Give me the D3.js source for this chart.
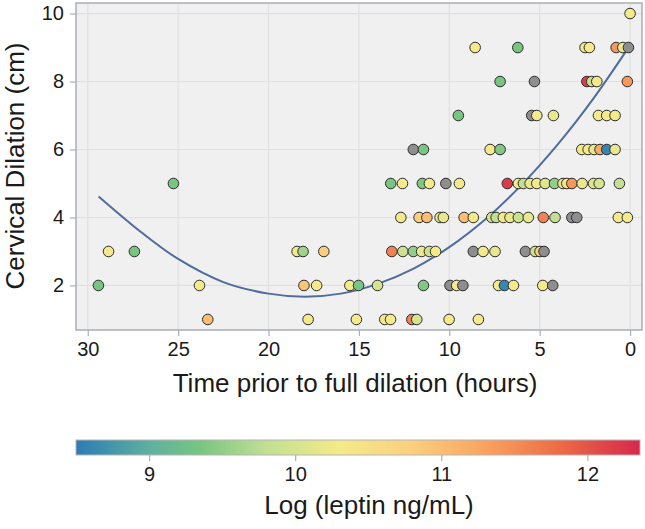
<!DOCTYPE html>
<html><head><meta charset="utf-8">
<script src="https://cdn.jsdelivr.net/npm/d3@7"></script>
<style>body{margin:0;background:#fff}svg{display:block;font-family:"Liberation Sans",Arial,sans-serif}</style>
</head><body><svg id="c" width="645" height="529"></svg>
<script>
// Scatter data: hours before full dilation, cervical dilation (cm), log leptin (null = missing, gray)
const hours = [
  0.0,
  8.57,6.21,2.49,2.25,0.77,0.40,0.09,
  7.19,5.29,2.39,2.12,1.84,0.15,
  9.50,5.44,5.16,4.24,1.75,1.29,0.83,
  11.99,11.43,7.74,7.19,2.67,2.32,1.99,1.66,1.29,0.83,
  25.26,13.24,12.59,11.49,11.10,10.19,9.44,6.79,6.18,5.90,5.53,5.16,4.70,4.18,3.71,3.50,3.22,2.65,2.02,1.71,0.59,
  12.68,11.67,11.24,10.51,10.33,9.18,8.67,7.65,7.41,7.01,6.64,6.18,5.63,4.80,4.15,3.22,2.95,0.65,0.15,
  28.85,27.42,18.42,18.09,16.94,13.18,12.57,11.99,11.53,11.10,10.76,8.67,8.13,7.47,5.79,5.25,4.98,4.76,
  29.41,23.82,18.04,17.34,15.50,15.02,13.97,11.43,9.96,9.59,9.25,7.28,6.95,6.45,4.83,4.28,
  23.36,17.81,15.14,13.57,13.25,12.07,11.80,10.01,8.39
];
const dilation = [
  10,
  9,9,9,9,9,9,9,
  8,8,8,8,8,8,
  7,7,7,7,7,7,7,
  6,6,6,6,6,6,6,6,6,6,
  5,5,5,5,5,5,5,5,5,5,5,5,5,5,5,5,5,5,5,5,5,
  4,4,4,4,4,4,4,4,4,4,4,4,4,4,4,4,4,4,4,
  3,3,3,3,3,3,3,3,3,3,3,3,3,3,3,3,3,3,
  2,2,2,2,2,2,2,2,2,2,2,2,2,2,2,2,
  1,1,1,1,1,1,1,1,1
];
const leptin = [
  10.3,
  10.3,9.35,10.3,10.3,11.4,10.2,null,
  9.35,null,12.2,9.8,10.3,11.4,
  9.35,null,10.3,10.2,10.3,10.3,10.3,
  null,9.35,10.3,9.4,10.3,10.3,10.2,11.2,8.6,10.2,
  9.35,9.35,10.3,9.4,10.3,null,10.3,12.2,10.3,9.8,10.2,10.3,10.1,9.5,10.2,10.4,11.4,10.2,10.1,10.0,9.8,
  10.3,10.8,11.0,10.3,10.2,11.0,10.3,10.0,9.8,10.3,10.2,9.9,10.2,11.6,9.8,null,null,10.3,10.3,
  10.3,9.35,10.3,9.6,10.8,11.6,9.9,9.5,10.2,9.9,10.3,null,10.3,10.2,null,9.9,10.8,null,
  9.35,10.3,10.9,10.3,10.3,9.35,10.0,9.4,null,10.3,null,10.3,8.6,10.3,10.3,null,
  11.0,10.3,10.3,10.3,10.3,11.6,10.0,10.3,10.3
];
// Fitted trend line
const curveHours = [29.4,27,25,22.5,20,18,16,14,12,10,8,6,4,2,0];
const curveDilation = [4.62,3.55,2.78,2.10,1.76,1.67,1.76,2.04,2.49,3.13,3.95,4.96,6.15,7.52,9.07];
// Axis ticks
const xTicks = [30,25,20,15,10,5,0];
const yTicks = [2,4,6,8,10];
const legendTicks = [9,10,11,12];
const colorStops = [8.5,9.0,9.35,9.8,10.3,10.8,11.3,11.8,12.36];
const colorRange = ["#2c7bb6","#5fb0a0","#78c582","#c2df92","#f4ea8a","#fccf7e","#f9a35f","#ee6c47","#d6284c"];

const svg = d3.select("#c");
const L = 76, R = 642, T = 3, B = 330;
const x = d3.scaleLinear().domain([30.65,-0.66]).range([L,R]);
const y = d3.scaleLinear().domain([0.69,10.31]).range([B,T]);
const color = d3.scaleLinear().domain(colorStops).range(colorRange);
const textCol = "#1a1a1a";

// panel
svg.append("rect").attr("x",L).attr("y",T).attr("width",R-L).attr("height",B-T).attr("fill","#f0f0f0");
// grid
svg.append("g").selectAll("line").data(xTicks).join("line")
  .attr("x1",d=>x(d)).attr("x2",d=>x(d)).attr("y1",T).attr("y2",B).attr("stroke","#e0e0e0").attr("stroke-width",1.2);
svg.append("g").selectAll("line").data(yTicks).join("line")
  .attr("y1",d=>y(d)).attr("y2",d=>y(d)).attr("x1",L).attr("x2",R).attr("stroke","#e0e0e0").attr("stroke-width",1.2);
svg.append("rect").attr("x",L).attr("y",T).attr("width",R-L).attr("height",B-T).attr("fill","none").attr("stroke","#a9afb6").attr("stroke-width",1.5);

// axes
const xa = svg.append("g").attr("transform",`translate(0,${B})`).call(d3.axisBottom(x).tickValues(xTicks).tickSize(6).tickPadding(6));
const ya = svg.append("g").attr("transform",`translate(${L},0)`).call(d3.axisLeft(y).tickValues(yTicks).tickSize(6).tickPadding(6));
[xa,ya].forEach(a=>{
  a.select(".domain").remove();
  a.selectAll(".tick line").attr("stroke","#a9afb6").attr("stroke-width",1.2);
  a.selectAll(".tick text").attr("fill",textCol).style("font-size","20px").style("font-family","Liberation Sans, Arial, sans-serif");
});

// trend line
const pts = curveHours.map((h,i)=>[h,curveDilation[i]]);
svg.append("path").datum(pts)
  .attr("d",d3.line().x(d=>x(d[0])).y(d=>y(d[1])).curve(d3.curveCatmullRom))
  .attr("fill","none").attr("stroke","#4f6d9c").attr("stroke-width",2);

// points
const data = hours.map((h,i)=>({h, v:dilation[i], l:leptin[i]}));
svg.append("g").selectAll("circle").data(data).join("circle")
  .attr("cx",d=>x(d.h)).attr("cy",d=>y(d.v)).attr("r",5.3)
  .attr("fill",d=>d.l==null?"#8e8e8e":color(d.l))
  .attr("stroke","#2a2a2a").attr("stroke-width",1);

// axis titles
svg.append("text").attr("x",(L+R)/2-4).attr("y",392).attr("text-anchor","middle")
  .attr("fill",textCol).style("font-size","26px").text("Time prior to full dilation (hours)");
svg.append("text").attr("transform","translate(24,166) rotate(-90)").attr("text-anchor","middle")
  .attr("fill",textCol).style("font-size","26px").text("Cervical Dilation (cm)");

// color legend
const lx = d3.scaleLinear().domain([8.5,12.36]).range([76,640]);
const defs = svg.append("defs");
const grad = defs.append("linearGradient").attr("id","g").attr("x1","0%").attr("x2","100%");
grad.selectAll("stop").data(colorStops).join("stop")
  .attr("offset",d=>((lx(d)-76)/(640-76)*100)+"%").attr("stop-color",d=>color(d));
const LT = 440, LB = 455;
svg.append("rect").attr("x",76).attr("y",LT).attr("width",640-76).attr("height",LB-LT)
  .attr("fill","url(#g)").attr("stroke","#b5b5b5").attr("stroke-width",1);
const la = svg.append("g").attr("transform",`translate(0,${LB})`)
  .call(d3.axisBottom(lx).tickValues(legendTicks).tickFormat(d3.format("d")).tickSize(6).tickPadding(6));
la.select(".domain").remove();
la.selectAll(".tick line").attr("stroke","#a9afb6").attr("stroke-width",1.2);
la.selectAll(".tick text").attr("fill",textCol).style("font-size","20px").style("font-family","Liberation Sans, Arial, sans-serif");
svg.append("text").attr("x",369).attr("y",514).attr("text-anchor","middle")
  .attr("fill",textCol).style("font-size","26px").text("Log (leptin ng/mL)");
</script></body></html>
